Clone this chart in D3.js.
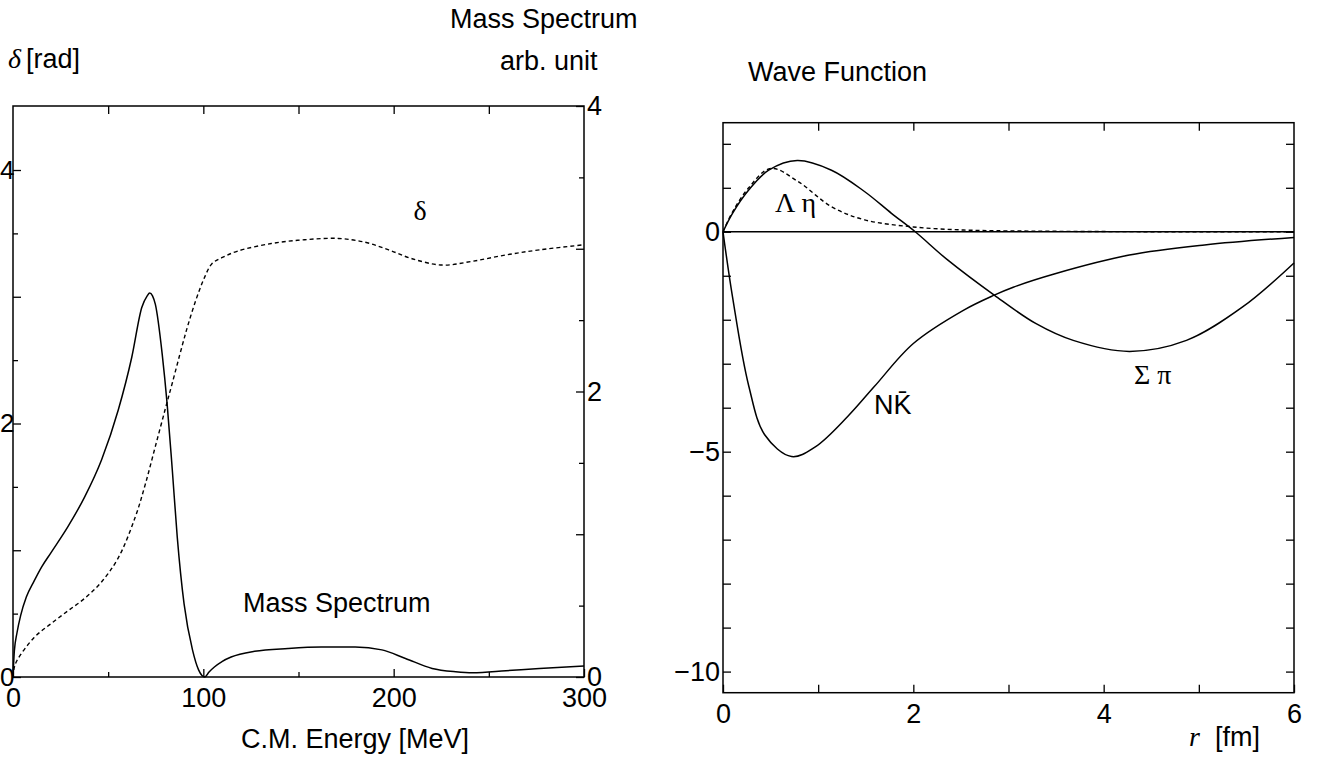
<!DOCTYPE html>
<html>
<head>
<meta charset="utf-8">
<script src="https://cdn.jsdelivr.net/npm/d3@7/dist/d3.min.js"></script>
<style>
  html, body { margin: 0; padding: 0; background: #fff; }
  svg { display: block; }
</style>
</head>
<body>
<svg id="chart" width="1330" height="759"></svg>
<script>
// ---------------- DATA ----------------
// Left panel: C.M. energy [MeV]
const massEnergy = [0, 0.7, 2.1, 4, 7, 11, 15, 19.9, 28.7, 37.6, 46.5, 55.3, 62.4, 67.7, 70.5, 71.8, 73.3, 74.8, 78.4, 81, 83.7, 86.3, 89.9, 94.3, 97.5, 100.8, 103, 105.8, 110, 114.6, 126.9, 144.5, 162, 179.8, 193.8, 206.2, 220.2, 232.6, 241.4, 259, 276.6, 300];
const massValues = [0, 0.18, 0.31, 0.43, 0.56, 0.67, 0.77, 0.87, 1.05, 1.26, 1.52, 1.87, 2.24, 2.59, 2.67, 2.69, 2.67, 2.61, 2.26, 1.91, 1.45, 0.98, 0.51, 0.19, 0.05, 0, 0.035, 0.07, 0.11, 0.14, 0.18, 0.20, 0.21, 0.21, 0.19, 0.13, 0.06, 0.037, 0.03, 0.044, 0.06, 0.077];

const phaseEnergy = [0, 0.6, 2.1, 11, 19.9, 28.7, 37.6, 46.5, 55.3, 64.2, 69.5, 74.8, 80.1, 83.7, 89, 92, 96, 100, 104.5, 110, 118, 135.7, 153.3, 171, 185, 197.4, 209.7, 225.5, 241.4, 259, 276.6, 300];
const phaseValues = [0, 0.07, 0.13, 0.31, 0.42, 0.52, 0.62, 0.75, 0.94, 1.26, 1.52, 1.82, 2.12, 2.32, 2.62, 2.78, 2.97, 3.13, 3.26, 3.31, 3.36, 3.42, 3.45, 3.46, 3.43, 3.37, 3.30, 3.25, 3.28, 3.33, 3.37, 3.41];

const energyMajorTicks = [0, 100, 200, 300];
const energyMinorTicks = [50, 150, 250];
const phaseMajorTicks = [0, 1, 2, 3, 4];
const phaseLabelTicks = [0, 2, 4];
const phaseMinorTicks = [0.5, 1.5, 2.5, 3.5];
const massMajorTicks = [0, 1, 2, 3, 4];
const massLabelTicks = [0, 2, 4];
const massMinorTicks = [0.5, 1.5, 2.5, 3.5];

// Right panel: r [fm]
const sigmaPiR = [0, 0.1, 0.27, 0.48, 0.78, 1.14, 1.49, 1.77, 2.02, 2.36, 2.85, 3.29, 3.68, 4.27, 4.87, 5.46, 6.0];
const sigmaPiV = [0, 0.42, 0.95, 1.40, 1.62, 1.40, 0.91, 0.42, 0, -0.64, -1.44, -2.09, -2.47, -2.72, -2.47, -1.71, -0.71];

const lambdaEtaR = [0, 0.1, 0.27, 0.5, 0.79, 1.14, 1.49, 2.0, 2.53, 3.0, 4.0, 5.0, 6.0];
const lambdaEtaV = [0, 0.45, 1.0, 1.44, 1.14, 0.57, 0.27, 0.11, 0.04, 0.02, 0.005, 0, 0];

const nKbarR = [0, 0.1, 0.27, 0.44, 0.72, 0.97, 1.31, 1.59, 2.0, 2.53, 2.85, 3.05, 3.48, 4.27, 5.06, 6.0];
const nKbarV = [0, -1.48, -3.5, -4.62, -5.11, -4.89, -4.2, -3.52, -2.54, -1.78, -1.44, -1.26, -0.96, -0.53, -0.30, -0.13];

const rLabelTicks = [0, 2, 4, 6];
const rMinorTicks = [1, 3, 5];
const waveTicks = [2, 1, 0, -1, -2, -3, -4, -5, -6, -7, -8, -9, -10];
const waveLabelTicks = [0, -5, -10];

// ---------------- DRAW ----------------
const svg = d3.select("#chart");
const SANS = "'Liberation Sans', Arial, Helvetica, sans-serif";
const SERIF = "'Liberation Serif', 'Times New Roman', serif";
const TICKFONT = 27;
const LABFONT = 27;
const GREEKFONT = 28;

const LP = {x0: 13, x1: 584, y0: 106, y1: 677};
const RP = {x0: 723, x1: 1294, y0: 122.7, y1: 692.7};

const xE = d3.scaleLinear().domain([0, 300]).range([LP.x0, LP.x1]);
const yPhase = d3.scaleLinear().domain([0, 4.505]).range([LP.y1, LP.y0]);
const yMass = d3.scaleLinear().domain([0, 4]).range([LP.y1, LP.y0]);

const xR = d3.scaleLinear().domain([0, 6]).range([RP.x0, RP.x1]);
const yW = d3.scaleLinear().domain([-10.48, 2.48]).range([RP.y1, RP.y0]);

function styleAxis(g, withText, size) {
  g.select(".domain").remove();
  g.selectAll(".tick line").attr("stroke", "#000").attr("stroke-width", 1.3);
  g.selectAll(".tick text").attr("fill", "#000")
    .style("font-family", SANS).style("font-size", (size || TICKFONT) + "px");
  if (!withText) g.selectAll(".tick text").remove();
}

function addAxis(axis, tx, ty, withText, size) {
  const g = svg.append("g").attr("transform", `translate(${tx},${ty})`).call(axis);
  styleAxis(g, withText, size);
  return g;
}
const minusFmt = d => d3.format("d")(d).replace("-", "\u2212");

// ----- Left panel -----
addAxis(d3.axisBottom(xE).tickValues(energyMajorTicks).tickSize(-8).tickPadding(11).tickFormat(d3.format("d")), 0, LP.y1, true);
addAxis(d3.axisBottom(xE).tickValues(energyMinorTicks).tickSize(-5), 0, LP.y1, false);
addAxis(d3.axisTop(xE).tickValues(energyMinorTicks.concat([100, 200])).tickSize(-8), 0, LP.y0, false);
addAxis(d3.axisLeft(yPhase).tickValues(phaseMajorTicks).tickSize(-8), LP.x0, 0, false);
addAxis(d3.axisLeft(yPhase).tickValues(phaseMinorTicks).tickSize(-5), LP.x0, 0, false);
addAxis(d3.axisLeft(yPhase).tickValues(phaseLabelTicks).tickSize(0).tickPadding(-1.5).tickFormat(d3.format("d")), LP.x0, 0, true, 26);
addAxis(d3.axisRight(yMass).tickValues(massMajorTicks).tickSize(-8), LP.x1, 0, false);
addAxis(d3.axisRight(yMass).tickValues(massMinorTicks).tickSize(-5), LP.x1, 0, false);
addAxis(d3.axisRight(yMass).tickValues(massLabelTicks).tickSize(0).tickPadding(3).tickFormat(d3.format("d")), LP.x1, 0, true);

svg.append("rect").attr("x", LP.x0).attr("y", LP.y0)
  .attr("width", LP.x1 - LP.x0).attr("height", LP.y1 - LP.y0)
  .attr("fill", "none").attr("stroke", "#000").attr("stroke-width", 1.5);

const massLine = d3.line().x((d, i) => xE(massEnergy[i])).y(d => yMass(d)).curve(d3.curveMonotoneX);
const phaseLine = d3.line().x((d, i) => xE(phaseEnergy[i])).y(d => yPhase(d)).curve(d3.curveCatmullRom.alpha(0.5));

svg.append("path").attr("d", massLine(massValues))
  .attr("fill", "none").attr("stroke", "#000").attr("stroke-width", 1.5);
svg.append("path").attr("d", phaseLine(phaseValues))
  .attr("fill", "none").attr("stroke", "#000").attr("stroke-width", 1.4)
  .attr("stroke-dasharray", "4,3");

function label(x, y, txt, opts = {}) {
  return svg.append("text").attr("x", x).attr("y", y)
    .attr("text-anchor", opts.anchor || "start")
    .style("font-family", opts.family || SANS)
    .style("font-size", (opts.size || LABFONT) + "px")
    .style("font-style", opts.style || "normal")
    .text(txt);
}

// texts left panel
label(450, 28, "Mass Spectrum");
const dl = svg.append("text").attr("x", 8).attr("y", 68)
  .style("font-family", SANS).style("font-size", LABFONT + "px");
dl.append("tspan").style("font-family", SERIF).style("font-style", "italic").style("font-size", GREEKFONT + "px").text("δ");
dl.append("tspan").attr("dx", 5).text("[rad]");
label(500, 70, "arb. unit");
label(241, 748, "C.M. Energy [MeV]");
label(420, 220, "δ", {family: SERIF, size: GREEKFONT, anchor: "middle"});
label(243, 612, "Mass Spectrum");

// ----- Right panel -----
addAxis(d3.axisBottom(xR).tickValues(rLabelTicks).tickSize(-8).tickPadding(11).tickFormat(d3.format("d")), 0, RP.y1, true);
addAxis(d3.axisBottom(xR).tickValues(rMinorTicks).tickSize(-8), 0, RP.y1, false);
addAxis(d3.axisTop(xR).tickValues([1, 2, 3, 4, 5]).tickSize(-8), 0, RP.y0, false);
addAxis(d3.axisLeft(yW).tickValues(waveTicks).tickSize(-8), RP.x0, 0, false);
addAxis(d3.axisLeft(yW).tickValues(waveLabelTicks).tickSize(0).tickPadding(3).tickFormat(minusFmt), RP.x0, 0, true);
addAxis(d3.axisRight(yW).tickValues(waveTicks).tickSize(-8), RP.x1, 0, false);

svg.append("rect").attr("x", RP.x0).attr("y", RP.y0)
  .attr("width", RP.x1 - RP.x0).attr("height", RP.y1 - RP.y0)
  .attr("fill", "none").attr("stroke", "#000").attr("stroke-width", 1.5);

svg.append("line").attr("x1", xR(0)).attr("x2", xR(6)).attr("y1", yW(0)).attr("y2", yW(0))
  .attr("stroke", "#000").attr("stroke-width", 1.3);

function waveLine(rs) {
  return d3.line().x((d, i) => xR(rs[i])).y(d => yW(d)).curve(d3.curveCatmullRom.alpha(0.5));
}
svg.append("path").attr("d", waveLine(sigmaPiR)(sigmaPiV))
  .attr("fill", "none").attr("stroke", "#000").attr("stroke-width", 1.5);
svg.append("path").attr("d", waveLine(nKbarR)(nKbarV))
  .attr("fill", "none").attr("stroke", "#000").attr("stroke-width", 1.5);
svg.append("path").attr("d", waveLine(lambdaEtaR)(lambdaEtaV))
  .attr("fill", "none").attr("stroke", "#000").attr("stroke-width", 1.4)
  .attr("stroke-dasharray", "4,3");

label(748, 81, "Wave Function");
label(1189, 746, "r", {family: SERIF, size: GREEKFONT, style: "italic"});
label(1215, 746, "[fm]");

label(775, 212, "Λ η", {family: SERIF, size: GREEKFONT});
label(874, 414, "NK\u0304");
label(1134, 384, "Σ π", {family: SERIF, size: GREEKFONT});
</script>
</body>
</html>
